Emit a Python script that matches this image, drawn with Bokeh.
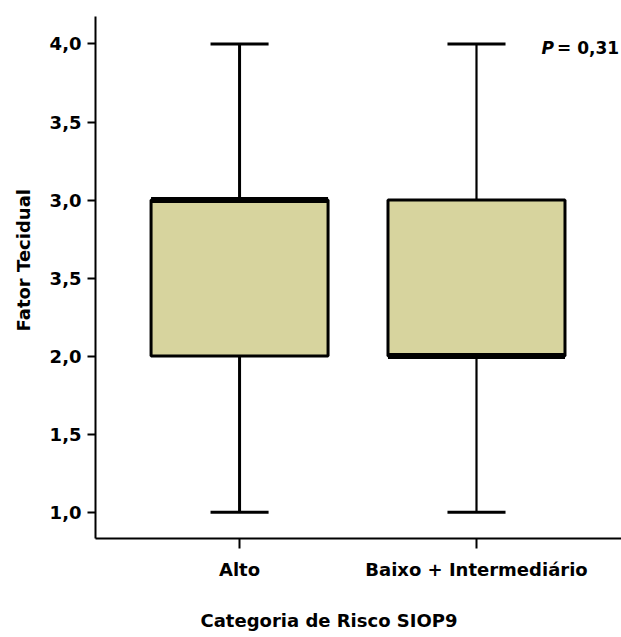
from bokeh.plotting import figure
from bokeh.models import Range1d, FixedTicker, Label, Title, ColumnDataSource
from bokeh.embed import file_html
from bokeh.resources import INLINE

# Box-plot summary per SIOP9 risk category
categories = ["Alto", "Baixo + Intermediário"]
minimum = [1.0, 1.0]
q1 = [2.0, 2.0]
median = [3.0, 2.0]
q3 = [3.0, 3.0]
maximum = [4.0, 4.0]

y_ticks = [1.0, 1.5, 2.0, 2.5, 3.0, 3.5, 4.0]
y_tick_labels = ["1,0", "1,5", "2,0", "3,5", "3,0", "3,5", "4,0"]

p_value_text = "= 0,31"

FONT = "DejaVu Sans"
FS = "18px"
FILL = "#D7D49E"

xpos = [i + 1 for i in range(len(categories))]
box_w = 0.747
cap_w = 0.245

p = figure(width=621, height=637, output_backend="svg", toolbar_location=None,
           x_range=Range1d(0.392, 2.612), y_range=Range1d(0.8315, 4.176),
           min_border_left=95, min_border_right=0, min_border_top=16,
           min_border_bottom=99)
p.outline_line_color = None
p.grid.visible = False
p.background_fill_color = "white"
p.border_fill_color = "white"

src = ColumnDataSource(dict(
    x=xpos,
    left=[x - box_w / 2 for x in xpos],
    right=[x + box_w / 2 for x in xpos],
    cl=[x - cap_w / 2 for x in xpos],
    cr=[x + cap_w / 2 for x in xpos],
    mn=minimum, q1=q1, med=median, q3=q3, mx=maximum,
    ww=[3, 2.2],
))

# whiskers and caps
p.segment(x0="x", y0="q3", x1="x", y1="mx", source=src, line_color="black", line_width="ww")
p.segment(x0="x", y0="mn", x1="x", y1="q1", source=src, line_color="black", line_width="ww")
p.segment(x0="cl", y0="mx", x1="cr", y1="mx", source=src, line_color="black", line_width=3)
p.segment(x0="cl", y0="mn", x1="cr", y1="mn", source=src, line_color="black", line_width=3)

# boxes
p.quad(left="left", right="right", bottom="q1", top="q3", source=src,
       fill_color=FILL, line_color="black", line_width=3)

# medians
p.segment(x0="left", y0="med", x1="right", y1="med", source=src,
          line_color="black", line_width=6)

# axes
p.xaxis.ticker = FixedTicker(ticks=xpos)
p.xaxis.major_label_overrides = {x: c for x, c in zip(xpos, categories)}
p.yaxis.ticker = FixedTicker(ticks=y_ticks)
p.yaxis.major_label_overrides = {t: l for t, l in zip(y_ticks, y_tick_labels)}

for ax in (p.xaxis, p.yaxis):
    ax.axis_line_width = 2
    ax.axis_line_color = "black"
    ax.major_tick_line_width = 2
    ax.major_tick_line_color = "black"
    ax.major_tick_in = 0
    ax.minor_tick_line_color = None
    ax.major_label_text_font = FONT
    ax.major_label_text_font_style = "bold"
    ax.major_label_text_font_size = FS
    ax.major_label_text_color = "black"

p.yaxis.major_tick_out = 8
p.yaxis.major_label_standoff = 6
p.xaxis.major_tick_out = 10
p.xaxis.major_label_standoff = 10

# axis titles as side-panel titles
p.add_layout(Title(text="Fator Tecidual", align="left", offset=207,
                   vertical_align="top", standoff=22,
                   text_font=FONT, text_font_style="bold", text_font_size=FS,
                   text_color="black"), "left")
# blank panel that adds vertical room between tick labels and the x title
p.add_layout(Title(text=" ", standoff=0, text_font=FONT, text_font_size=FS), "below")
p.add_layout(Title(text="Categoria de Risco SIOP9", align="left", offset=105,
                   standoff=4,
                   text_font=FONT, text_font_style="bold", text_font_size=FS,
                   text_color="black"), "below")

# p-value annotation
p.add_layout(Label(x=2.274, y=3.975, text="P", text_align="left", text_baseline="middle",
                   text_font=FONT, text_font_style="bold italic", text_font_size="17px",
                   text_color="black"))
p.add_layout(Label(x=2.340, y=3.975, text=p_value_text, text_align="left",
                   text_baseline="middle", text_font=FONT, text_font_style="bold",
                   text_font_size="17px", text_color="black"))

open("out.html", "w").write(file_html(p, INLINE))
